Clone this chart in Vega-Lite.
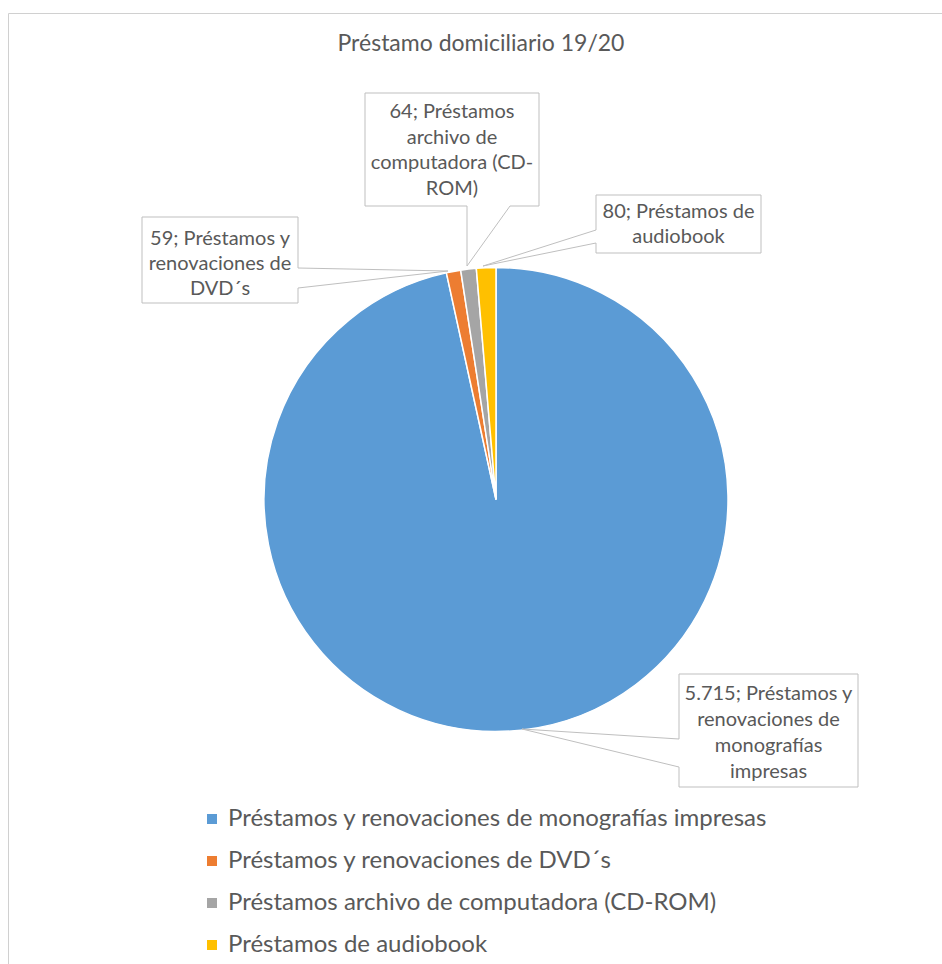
{
  "$schema": "https://vega.github.io/schema/vega-lite/v6.json",
  "width": 934,
  "height": 951,
  "autosize": {"type": "none"},
  "padding": {"left": 8, "top": 13, "right": 0, "bottom": 0},
  "background": "white",
  "view": {"stroke": "#D0D0D0", "strokeWidth": 1},
  "config": {"view": {"stroke": "#D0D0D0", "strokeWidth": 1}, "font": "Lato"},
  "title": {
    "text": "Préstamo domiciliario 19/20",
    "font": "Lato",
    "fontSize": 23,
    "fontWeight": "normal",
    "color": "#595959",
    "anchor": "middle",
    "frame": "group",
    "offset": 0,
    "baseline": "alphabetic",
    "dx": 6,
    "dy": 61
  },
  "data": {
    "values": [
      {"category": "Préstamos y renovaciones de monografías impresas", "value": 5715, "label": "5.715; Préstamos y\nrenovaciones de\nmonografías\nimpresas"},
      {"category": "Préstamos y renovaciones de DVD´s", "value": 59, "label": "59; Préstamos y\nrenovaciones de\nDVD´s"},
      {"category": "Préstamos archivo de computadora (CD-ROM)", "value": 64, "label": "64; Préstamos\narchivo de\ncomputadora (CD-\nROM)"},
      {"category": "Préstamos de audiobook", "value": 80, "label": "80; Préstamos de\naudiobook"}
    ]
  },
  "layer": [
    {
      "mark": {"type": "arc", "radius": 232, "x": 488, "y": 486.5, "stroke": "white", "strokeWidth": 1.5},
      "encoding": {
        "theta": {"field": "value", "type": "quantitative", "stack": true, "scale": {"range": [-0.215525, 6.06766]}},
        "order": {"field": "value", "type": "quantitative", "sort": "ascending"},
        "color": {
          "field": "category",
          "type": "nominal",
          "scale": {
            "domain": ["Préstamos y renovaciones de monografías impresas", "Préstamos y renovaciones de DVD´s", "Préstamos archivo de computadora (CD-ROM)", "Préstamos de audiobook"],
            "range": ["#5B9BD5", "#ED7D31", "#A5A5A5", "#FFC000"]
          },
          "legend": {
            "title": null,
            "orient": "none",
            "direction": "vertical",
            "legendX": 192,
            "legendY": 794,
            "padding": 0,
            "symbolType": "square",
            "symbolSize": 100,
            "symbolStrokeWidth": 0,
            "symbolOpacity": 1,
            "labelFont": "Lato",
            "labelFontSize": 24,
            "labelColor": "#595959",
            "labelOffset": 4,
            "rowPadding": 18,
            "labelLimit": 800
          }
        }
      }
    },
    {
      "mark": {"type": "point", "x": 488, "y": 486.5, "filled": true, "fill": "white", "stroke": "#BFBFBF", "strokeWidth": 1, "size": 4, "opacity": 1},
      "encoding": {
        "shape": {
          "field": "label",
          "type": "nominal",
          "scale": {
            "domain": ["5.715; Préstamos y\nrenovaciones de\nmonografías\nimpresas", "59; Préstamos y\nrenovaciones de\nDVD´s", "64; Préstamos\narchivo de\ncomputadora (CD-\nROM)", "80; Préstamos de\naudiobook"],
            "range": [
              "M183,174.5L362,174.5L362,287.5L183,287.5L183,267.5L26,229.5L183,239.5Z",
              "M-354,-282.5L-198,-282.5L-198,-231.5L-48,-228.5L-198,-211.5L-198,-196.5L-354,-196.5Z",
              "M-131,-406.5L43,-406.5L43,-293.5L14,-293.5L-29,-233.5L-29,-293.5L-131,-293.5Z",
              "M100,-304.5L265,-304.5L265,-246.5L100,-246.5L100,-256.5L-13,-233.5L100,-269.5Z"
            ]
          },
          "legend": null
        }
      }
    },
    {
      "transform": [{"filter": "datum.value == 5715"}],
      "mark": {"type": "text", "x": 488, "y": 486.5, "dx": 272.5, "dy": 194, "lineBreak": "\n", "lineHeight": 26, "fontSize": 20, "font": "Lato", "color": "#595959", "align": "center", "baseline": "middle"},
      "encoding": {"text": {"field": "label", "type": "nominal"}}
    },
    {
      "transform": [{"filter": "datum.value == 59"}],
      "mark": {"type": "text", "x": 488, "y": 486.5, "dx": -276, "dy": -260.5, "lineBreak": "\n", "lineHeight": 25, "fontSize": 20, "font": "Lato", "color": "#595959", "align": "center", "baseline": "middle"},
      "encoding": {"text": {"field": "label", "type": "nominal"}}
    },
    {
      "transform": [{"filter": "datum.value == 64"}],
      "mark": {"type": "text", "x": 488, "y": 486.5, "dx": -44, "dy": -387.5, "lineBreak": "\n", "lineHeight": 25.5, "fontSize": 20, "font": "Lato", "color": "#595959", "align": "center", "baseline": "middle"},
      "encoding": {"text": {"field": "label", "type": "nominal"}}
    },
    {
      "transform": [{"filter": "datum.value == 80"}],
      "mark": {"type": "text", "x": 488, "y": 486.5, "dx": 182.5, "dy": -288, "lineBreak": "\n", "lineHeight": 25, "fontSize": 20, "font": "Lato", "color": "#595959", "align": "center", "baseline": "middle"},
      "encoding": {"text": {"field": "label", "type": "nominal"}}
    }
  ]
}
